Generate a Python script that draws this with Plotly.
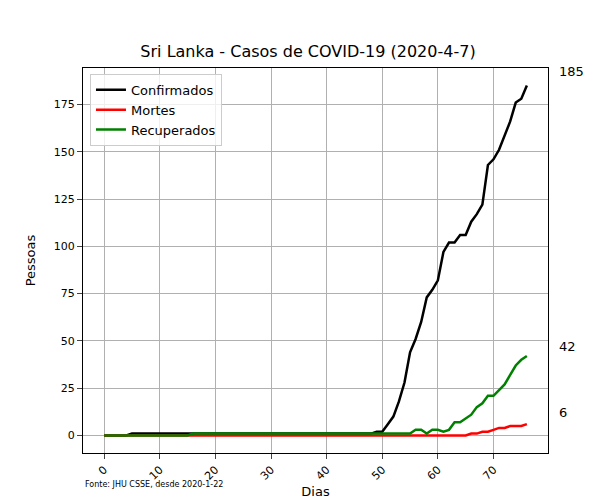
import plotly.graph_objects as go

days = list(range(77))
confirmed = [0]*5 + [1]*44 + [2, 2, 6, 10, 18, 28, 44, 51, 60, 73, 77, 82, 97, 102, 102, 106, 106,
                             113, 117, 122, 143, 146, 151, 159, 166, 176, 178, 185]
deaths = [0]*66 + [1, 1, 2, 2, 3, 4, 4, 5, 5, 5, 6]
recovered = [0]*16 + [1]*40 + [3, 3, 1, 3, 3, 2, 3, 7, 7, 9, 11, 15, 17, 21, 21, 24, 27, 32, 37, 40, 42]

fig = go.Figure()
for name, ys, color in [("Confirmados", confirmed, "black"), ("Mortes", deaths, "red"),
                        ("Recuperados", recovered, "green")]:
    fig.add_trace(go.Scatter(x=days, y=ys, name=name, mode="lines", line=dict(color=color, width=2.5)))

for ys, shift in [(confirmed, 14), (recovered, 10), (deaths, 12)]:
    fig.add_annotation(x=1.02, xref="paper", y=ys[-1], yref="y", text=str(ys[-1]),
                       showarrow=False, xanchor="left", yshift=shift,
                       font=dict(size=13, color="black"))
fig.add_annotation(x=0.0, xref="paper", y=-0.098, yref="paper", text="Fonte: JHU CSSE, desde 2020-1-22",
                   showarrow=False, xanchor="left", font=dict(size=8, color="black"))

fig.update_layout(
    width=600, height=500, paper_bgcolor="white", plot_bgcolor="white",
    font=dict(family="DejaVu Sans", color="black", size=11),
    title=dict(text="Sri Lanka - Casos de COVID-19 (2020-4-7)", x=0.5, y=0.925, xanchor="center",
               font=dict(size=16)),
    margin=dict(l=75, r=60, t=60, b=55, autoexpand=False),
    showlegend=True,
    legend=dict(x=0.015, y=0.985, xanchor="left", yanchor="top", bordercolor="#cccccc", borderwidth=1,
                bgcolor="rgba(255,255,255,0.8)", font=dict(size=13)),
    xaxis=dict(title=dict(text="Dias", standoff=5, font=dict(size=13)), range=[-3.8, 79.8],
               tickvals=list(range(0, 80, 10)), automargin=False,
               tickangle=-45, showgrid=True, gridcolor="#b0b0b0", zeroline=False, showline=True,
               linecolor="black", mirror=True, ticks="outside"),
    yaxis=dict(title=dict(text="Pessoas", font=dict(size=13)), range=[-9.25, 194.25],
               tickvals=list(range(0, 200, 25)), automargin=False,
               showgrid=True, gridcolor="#b0b0b0", zeroline=False, showline=True,
               linecolor="black", mirror=True, ticks="outside"),
)
fig.write_html("out.html")
